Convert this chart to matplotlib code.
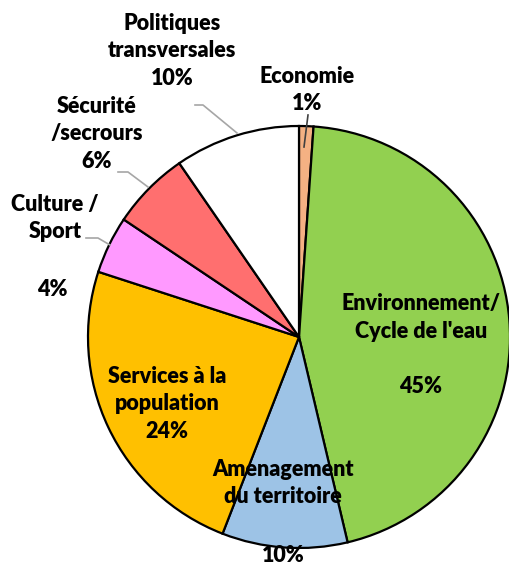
import matplotlib
matplotlib.use("Agg")
import matplotlib.pyplot as plt

# slice data, clockwise from 12 o'clock
categories = ["Economie", "Environnement/\nCycle de l'eau", "Amenagement\ndu territoire",
              "Services à la\npopulation", "Culture /\nSport", "Sécurité\n/secrours",
              "Politiques\ntransversales"]
shares = [1.1, 45.2, 9.6, 24.1, 4.4, 6.0, 9.6]
colors = ["#F4B183", "#92D050", "#9DC3E6", "#FFC000", "#FF99FF", "#FF6F6F", "#FFFFFF"]

W, H = 510, 564
CX, CY, R = 299, 337, 211

plt.rcParams["font.family"] = ["Lato", "DejaVu Sans"]

fig = plt.figure(figsize=(W / 100, H / 100), dpi=100)
fig.patch.set_facecolor("white")
ax = fig.add_axes([(CX - R) / W, (H - CY - R) / H, 2 * R / W, 2 * R / H])
ax.axis("off")

ax.pie(shares, colors=colors, startangle=90, counterclock=False, radius=1,
       wedgeprops=dict(edgecolor="black", linewidth=1.6))
ax.set_xlim(-1, 1)
ax.set_ylim(-1, 1)
ax.set_aspect("auto")


def px(x, y):
    # pixel position in the 510x564 picture -> data coords of the pie axes
    return (x - CX) / R, (CY - y) / R


pct = [f"{round(s):.0f}%" for s in shares]
TXT = dict(ha="center", va="center", fontsize=15.5, fontweight="heavy",
           color="black", clip_on=False, linespacing=1.4)

ax.text(*px(307, 90), f"{categories[0]}\n{pct[0]}", **TXT)
ax.text(*px(421, 345), f"{categories[1]}\n\n{pct[1]}", **TXT)
ax.text(*px(283, 483), categories[2], **TXT)
ax.text(*px(283, 555), pct[2], **TXT)
ax.text(*px(167, 404), f"{categories[3]}\n{pct[3]}", **TXT)
ax.text(*px(55, 218), categories[4], **TXT)
ax.text(*px(52, 290), pct[4], **TXT)
ax.text(*px(97, 134), f"{categories[5]}\n{pct[5]}", **TXT)
ax.text(*px(172, 51), f"{categories[6]}\n{pct[6]}", **TXT)

# leader lines
LEAD = dict(color="#A6A6A6", lw=1.2, clip_on=False)
for pts in ([(195, 105), (203, 105), (237, 133)],
            [(118, 172), (128, 172), (148, 187)],
            [(86, 238), (98, 238), (110, 245)]):
    xs, ys = zip(*[px(*p) for p in pts])
    ax.plot(xs, ys, **LEAD)
xs, ys = zip(px(308, 115), px(304, 147))
ax.plot(xs, ys, color="#404040", lw=1.2, clip_on=False)

fig.savefig("out.png", dpi=100, facecolor="white")
